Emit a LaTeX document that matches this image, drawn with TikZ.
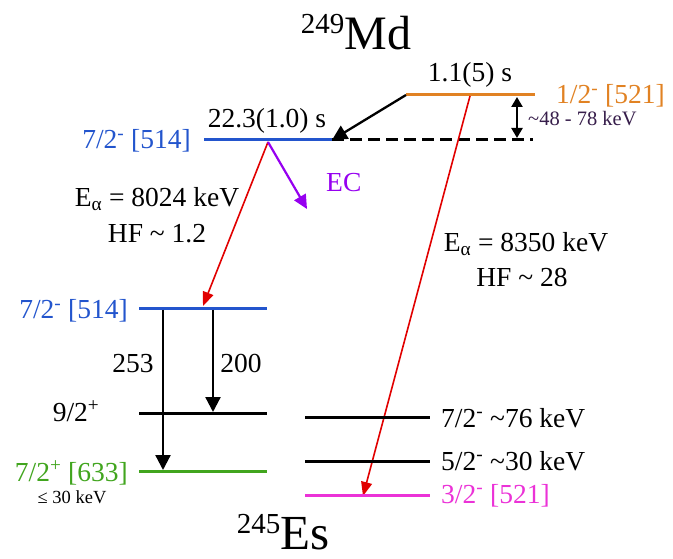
\documentclass[tikz,border=0pt]{standalone}
\usepackage{fontspec}
\setmainfont{Liberation Serif}
\usetikzlibrary{arrows.meta}
\definecolor{cblue}{RGB}{35,85,205}
\definecolor{corange}{RGB}{225,130,35}
\definecolor{cgreen}{RGB}{65,165,30}
\definecolor{cmag}{RGB}{235,50,215}
\definecolor{cpurp}{RGB}{150,0,240}
\definecolor{cred}{RGB}{225,0,0}
\definecolor{cdark}{RGB}{55,30,75}
\newcommand{\fs}[1]{\fontsize{#1}{#1}\selectfont}
\tikzset{
  lvl/.style={line width=3pt},
  gam/.style={line width=2.3pt,-{Triangle[length=15pt,width=15pt]}},
  alf/.style={line width=1.6pt,cred,-{Triangle[length=14pt,width=11pt]}},
  txt/.style={inner sep=0pt,font=\fs{27.5}},
  stxt/.style={inner sep=0pt,font=\fs{20.5}}
}
\begin{document}
\begin{tikzpicture}[x=1pt,y=-1pt]
\useasboundingbox (0,0) rectangle (673,559);
% titles
\node[inner sep=0pt,anchor=base] (md) at (356,50) {\raisebox{16pt}{\fs{29}249}\fs{48}Md};
\node[inner sep=0pt,anchor=base] (es) at (283,549) {\raisebox{16pt}{\fs{29}245}\fs{49}Es};
% Md levels
\coordinate (oL) at (406,95); \coordinate (oR) at (535,95);
\coordinate (bL) at (204,140); \coordinate (bR) at (332,140);
\coordinate (dR) at (533,140);
\draw[lvl,corange] (oL) -- (oR);
\draw[lvl,cblue] (bL) -- (bR);
\draw[line width=3pt,dash pattern=on 12pt off 6pt] (bR) -- (dR);
\draw[gam] (oL) -- (bR);
\coordinate (da1) at (517,97); \coordinate (da2) at (517,138);
\draw[line width=2.3pt,{Triangle[length=10pt,width=11pt]}-{Triangle[length=10pt,width=11pt]}] (da1) -- (da2);
\node[txt,anchor=base] (t1) at (470,82) {1.1(5) s};
\node[txt,anchor=base] (t2) at (267,128) {22.3(1.0) s};
\node[txt,anchor=base west,text=corange] (l1) at (556,104) {1/2\textsuperscript{-} [521]};
\node[stxt,anchor=base west,text=cdark] (l2) at (528,126) {\textasciitilde48 - 78 keV};
\node[txt,anchor=base east,text=cblue] (l3) at (191,149) {7/2\textsuperscript{-} [514]};
% alpha / EC
\coordinate (a1s) at (268,142);
\coordinate (a1e) at (203,306);
\coordinate (ece) at (307,209);
\coordinate (a2s) at (470,96);
\coordinate (a2e) at (363,496);
\draw[alf] (a1s) -- (a1e);
\draw[line width=2.2pt,cpurp,-{Triangle[length=14pt,width=13pt]}] (a1s) -- (ece);
\draw[alf] (a2s) -- (a2e);
\node[txt,anchor=base west,text=cpurp] (ec) at (326,192) {EC};
\node[txt,anchor=base] (e1) at (157,207) {E\textsubscript{α} = 8024 keV};
\node[txt,anchor=base] (h1) at (157,243) {HF \textasciitilde{} 1.2};
\node[txt,anchor=base] (e2) at (526,252) {E\textsubscript{α} = 8350 keV};
\node[txt,anchor=base] (h2) at (522,287) {HF \textasciitilde{} 28};
% Es levels
\coordinate (e1L) at (139,309); \coordinate (e1R) at (267,309);
\coordinate (e2L) at (139,413); \coordinate (e2R) at (267,413);
\coordinate (e3L) at (139,471); \coordinate (e3R) at (267,471);
\coordinate (f1L) at (305,417); \coordinate (f1R) at (430,417);
\coordinate (f2L) at (305,461); \coordinate (f2R) at (430,461);
\coordinate (f3L) at (305,495); \coordinate (f3R) at (430,495);
\draw[lvl,cblue] (e1L) -- (e1R);
\draw[lvl] (e2L) -- (e2R);
\draw[lvl,cgreen] (e3L) -- (e3R);
\draw[lvl] (f1L) -- (f1R);
\draw[lvl] (f2L) -- (f2R);
\draw[lvl,cmag] (f3L) -- (f3R);
\coordinate (g1s) at (163,310); \coordinate (g1e) at (163,470);
\coordinate (g2s) at (213,310); \coordinate (g2e) at (213,412);
\draw[gam] (g1s) -- (g1e);
\draw[gam] (g2s) -- (g2e);
\node[txt,anchor=base] (n253) at (133,372) {253};
\node[txt,anchor=base] (n200) at (241,372) {200};
\node[txt,anchor=base east,text=cblue] (s1) at (128,319) {7/2\textsuperscript{-} [514]};
\node[txt,anchor=base] (s2) at (76,421) {9/2\textsuperscript{+}};
\node[txt,anchor=base east,text=cgreen] (s3) at (128,481) {7/2\textsuperscript{+} [633]};
\node[inner sep=0pt,font=\fs{18.5},anchor=base] (s4) at (72,503) {≤ 30 keV};
\node[txt,anchor=base west] (r1) at (441,427) {7/2\textsuperscript{-} \textasciitilde76 keV};
\node[txt,anchor=base west] (r2) at (441,470) {5/2\textsuperscript{-} \textasciitilde30 keV};
\node[txt,anchor=base west,text=cmag] (r3) at (441,503) {3/2\textsuperscript{-} [521]};
\end{tikzpicture}
\end{document}
